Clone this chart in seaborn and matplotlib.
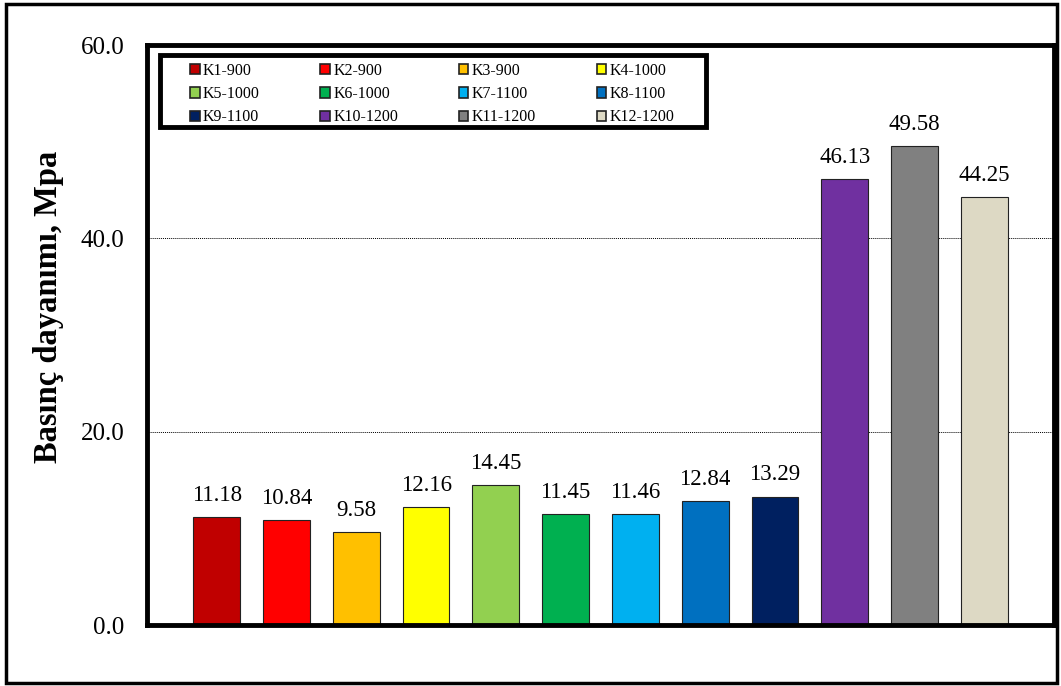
import matplotlib
matplotlib.use("Agg")
import matplotlib.pyplot as plt
import seaborn as sns
from matplotlib.patches import Patch, Rectangle

# Basınç dayanımı values
samples = ['K1-900', 'K2-900', 'K3-900', 'K4-1000', 'K5-1000', 'K6-1000',
           'K7-1100', 'K8-1100', 'K9-1100', 'K10-1200', 'K11-1200', 'K12-1200']
strength = [11.18, 10.84, 9.58, 12.16, 14.45, 11.45,
            11.46, 12.84, 13.29, 46.13, 49.58, 44.25]
colors = ['#C00000', '#FF0000', '#FFC000', '#FFFF00', '#92D050', '#00B050',
          '#00B0F0', '#0070C0', '#002060', '#7030A0', '#808080', '#DDD9C4']
yticks = [0, 20, 40, 60]

sns.set_style('white')
plt.rcParams['font.family'] = ['Liberation Serif', 'DejaVu Serif']
plt.rcParams['text.color'] = 'black'
plt.rcParams['axes.labelcolor'] = 'black'
plt.rcParams['ytick.color'] = 'black'

fig = plt.figure(figsize=(10.61, 6.86), dpi=100)
ax = fig.add_axes([0.1385, 0.0889, 0.855, 0.8455])

sns.barplot(x=samples, y=strength, hue=samples, palette=colors, legend=False,
            width=0.67, edgecolor='#222222', linewidth=0.8, saturation=1, ax=ax)

for cont in ax.containers:
    ax.bar_label(cont, fmt='%.2f', padding=8, fontsize=16.5, color='black')

ax.set_xlim(-1, 12)
ax.set_ylim(0, 60)
ax.set_yticks(yticks)
ax.set_yticklabels([f'{t:.1f}' for t in yticks], fontsize=18)
ax.tick_params(axis='y', length=0, pad=16)
ax.set_xticks([])
ax.set_xlabel('')
ax.set_ylabel('Basınç dayanımı, Mpa', fontsize=23.5, fontweight='bold')
ax.yaxis.set_label_coords(-0.091, 0.548)

ax.yaxis.grid(True, linestyle=(0, (1, 1)), color='black', linewidth=0.7)
ax.set_axisbelow(True)
for sp in ax.spines.values():
    sp.set_visible(True)
    sp.set_color('black')
    sp.set_linewidth(3.5)

# legend is filled row by row in the original, matplotlib fills columns
ncol, nrow = 4, 3
order = [r * ncol + c for c in range(ncol) for r in range(nrow)]
handles = [Patch(facecolor=colors[i], edgecolor='#222222', linewidth=1.2) for i in order]
labels = [samples[i] for i in order]
leg = ax.legend(handles, labels, ncol=ncol, loc='upper left',
                bbox_to_anchor=(0.0474, 0.869, 0.534, 0.1), mode='expand',
                borderaxespad=0, borderpad=0, fontsize=11.5, frameon=False,
                handlelength=0.6, handleheight=0.6, handletextpad=0.2,
                labelspacing=0.45, columnspacing=1.0)
# thick legend box
ax.add_patch(Rectangle((0.0143, 0.859), 0.602, 0.124, transform=ax.transAxes,
                       fill=False, edgecolor='black', linewidth=3.5, zorder=5))

# outer chart border
fig.patches.append(Rectangle((0.006, 0.004), 0.99, 0.99, transform=fig.transFigure,
                             fill=False, edgecolor='black', linewidth=2.5))

fig.savefig('out.png', dpi=100)
